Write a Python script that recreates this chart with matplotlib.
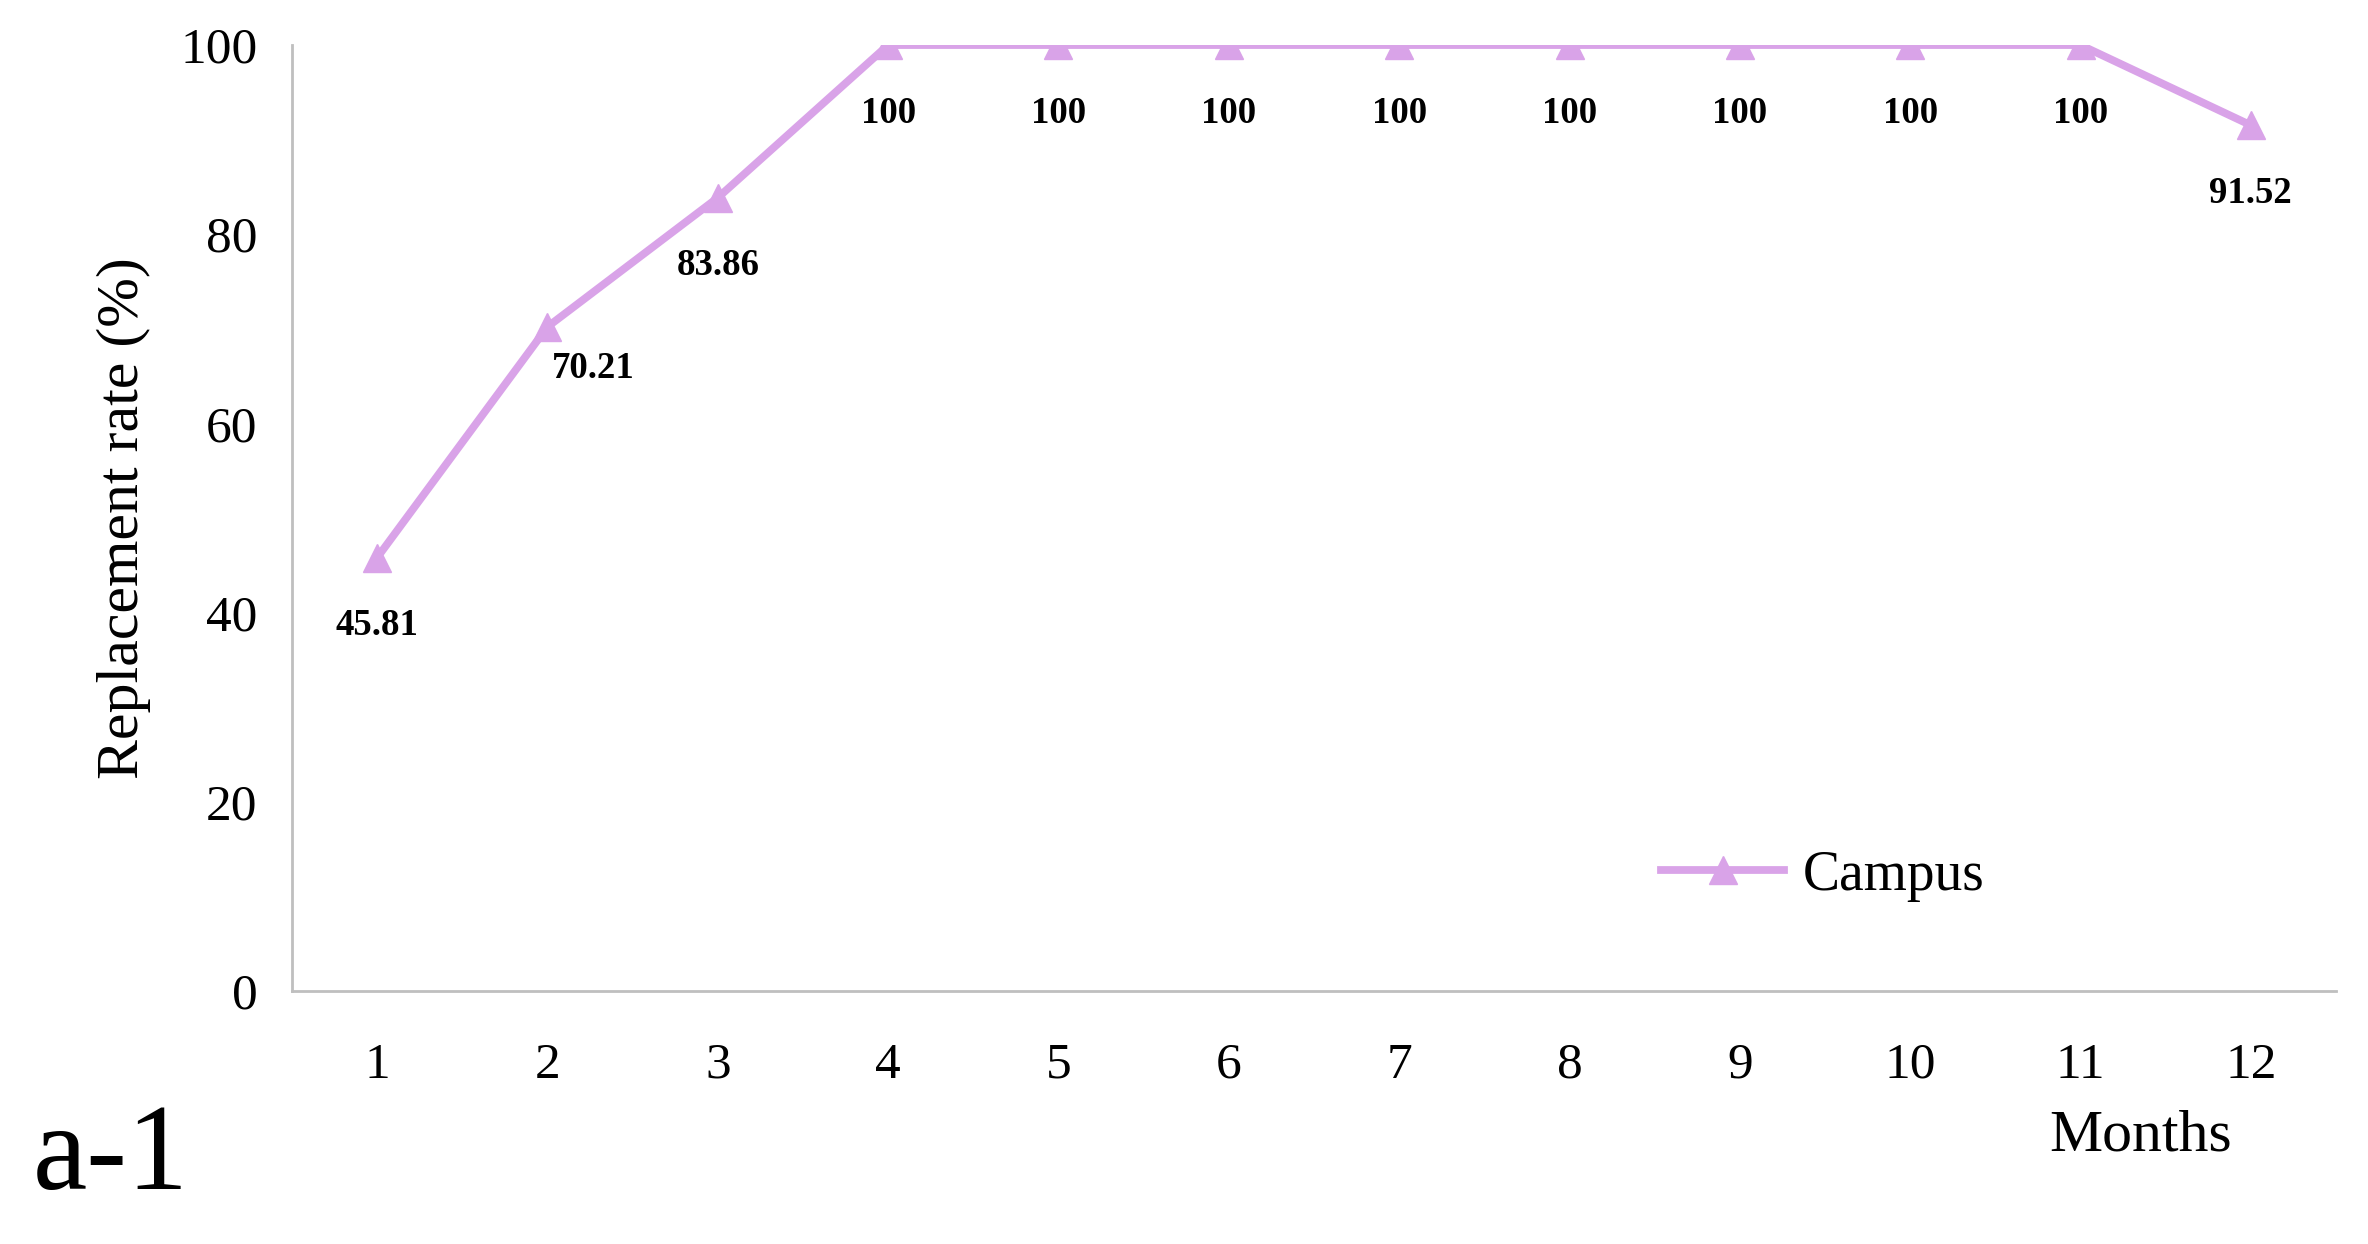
import matplotlib
matplotlib.use("Agg")
import matplotlib.pyplot as plt

plt.rcParams['font.family'] = ['Liberation Serif', 'DejaVu Serif']

months = [1, 2, 3, 4, 5, 6, 7, 8, 9, 10, 11, 12]
rates = [45.81, 70.21, 83.86, 100, 100, 100, 100, 100, 100, 100, 100, 91.52]
rate_labels = ['45.81', '70.21', '83.86', '100', '100', '100', '100', '100',
               '100', '100', '100', '91.52']
series_name = 'Campus'

line_color = '#D9A3E8'
axis_color = '#BFBFBF'

fig = plt.figure(figsize=(23.68, 12.44), dpi=100)
ax = fig.add_axes([0.1233, 0.2034, 0.8632, 0.7604])

ax.plot(months, rates, color=line_color, linewidth=5.6, marker='^',
        markersize=20, label=series_name)

# value labels under each point (month 2 sits a bit to the right)
for m, r, txt in zip(months, rates, rate_labels):
    dx, dy = (0, -49)
    if m == 2:
        dx, dy = (33, -30)
    ax.annotate(txt, (m, r), xytext=(dx, dy), textcoords='offset points',
                ha='center', va='center', fontsize=26.5, fontweight='bold')

ax.set_xlim(0.5, 12.5)
ax.set_ylim(0, 100)
ax.set_xticks(months)
ax.set_yticks([0, 20, 40, 60, 80, 100])
ax.tick_params(axis='both', length=0, labelsize=37)
ax.tick_params(axis='y', pad=25)
ax.tick_params(axis='x', pad=37)

for side in ['top', 'right']:
    ax.spines[side].set_visible(False)
for side in ['left', 'bottom']:
    ax.spines[side].set_color(axis_color)
    ax.spines[side].set_linewidth(2)

ax.set_ylabel('Replacement rate (%)', fontsize=43)
ax.yaxis.set_label_coords(-0.069, 0.5)
ax.set_xlabel('Months', fontsize=43)
ax.xaxis.set_label_coords(0.9046, -0.125)

ax.legend(loc='center left', bbox_to_anchor=(0.67, 0.122), frameon=False,
          fontsize=40, handlelength=2.2, handletextpad=0.35,
          borderpad=0, borderaxespad=0)

fig.text(0.014, 0.044, 'a-1', fontsize=88, va='baseline', ha='left')

fig.savefig('out.png', dpi=100)
